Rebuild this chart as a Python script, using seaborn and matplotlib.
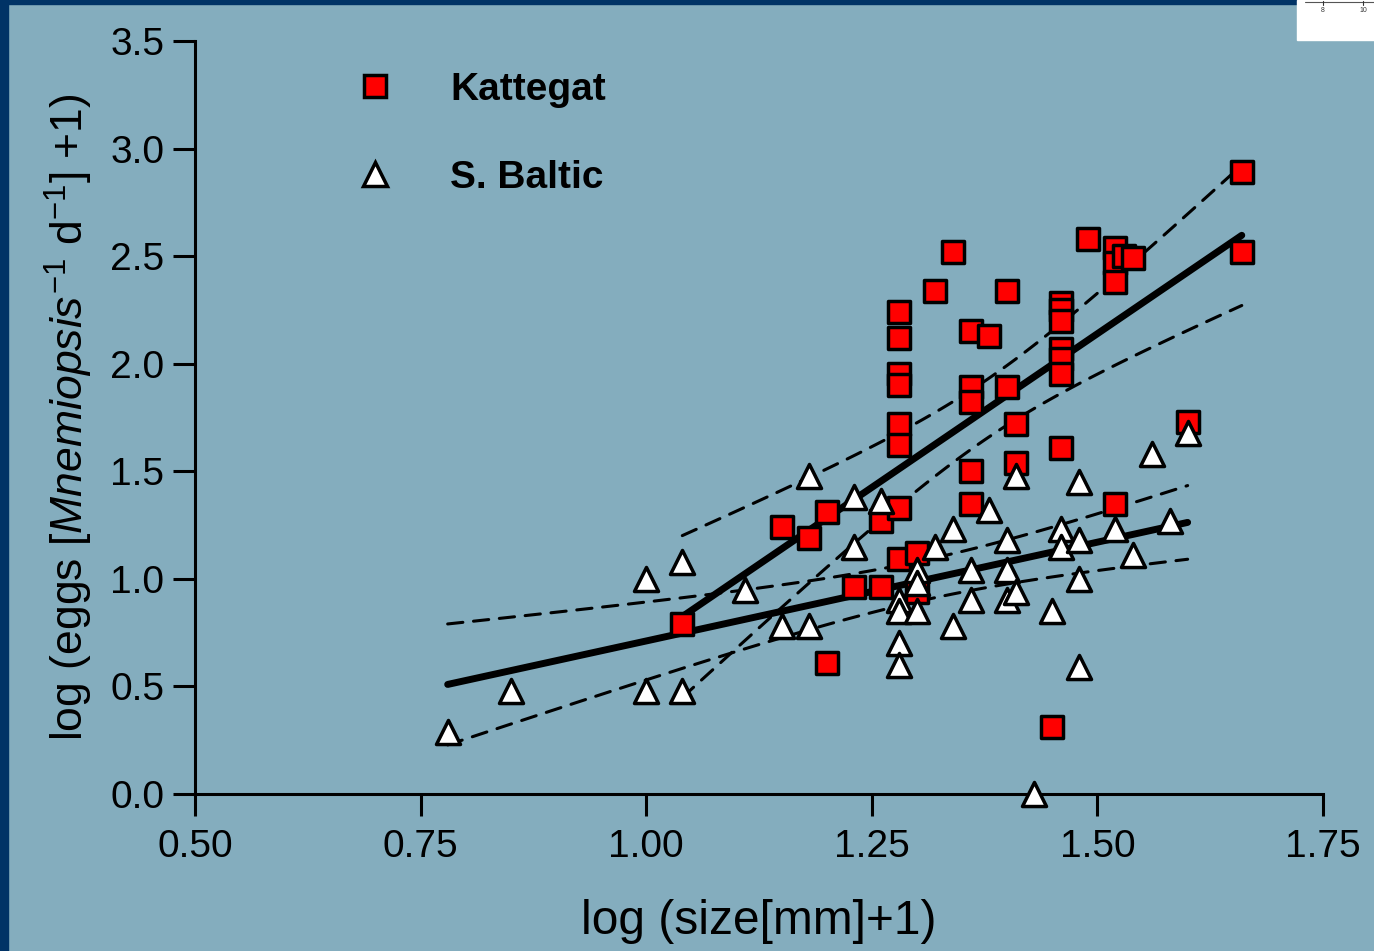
import numpy as np
import pandas as pd
import matplotlib
matplotlib.use("Agg")
import matplotlib.pyplot as plt
import seaborn as sns
from matplotlib.lines import Line2D
from matplotlib.patches import Rectangle

# log(size[mm]+1) and log(eggs+1) per ctenophore, by sampling area
kattegat_size = [1.04, 1.15, 1.18, 1.20, 1.20, 1.23, 1.26, 1.26, 1.28, 1.28,
                 1.28, 1.28, 1.28, 1.28, 1.28, 1.28, 1.30, 1.30, 1.32, 1.34,
                 1.36, 1.38, 1.36, 1.36, 1.36, 1.36, 1.40, 1.40, 1.41, 1.41,
                 1.45, 1.46, 1.46, 1.46, 1.46, 1.46, 1.46, 1.46, 1.49, 1.52,
                 1.52, 1.52, 1.53, 1.54, 1.52, 1.60, 1.66, 1.66]
kattegat_eggs = [0.79, 1.24, 1.19, 1.31, 0.61, 0.96, 0.96, 1.27, 2.24, 2.12,
                 1.95, 1.90, 1.72, 1.62, 1.33, 1.09, 1.12, 0.94, 2.34, 2.52,
                 2.15, 2.13, 1.89, 1.82, 1.50, 1.35, 2.34, 1.89, 1.72, 1.54,
                 0.31, 2.28, 2.25, 2.20, 2.07, 2.02, 1.95, 1.61, 2.58, 2.54,
                 2.47, 2.38, 2.50, 2.49, 1.35, 1.73, 2.89, 2.52]

baltic_size = [0.78, 0.85, 1.00, 1.00, 1.04, 1.04, 1.11, 1.15, 1.18, 1.18,
               1.23, 1.23, 1.26, 1.28, 1.28, 1.28, 1.28, 1.30, 1.30, 1.30,
               1.32, 1.34, 1.34, 1.36, 1.36, 1.38, 1.40, 1.40, 1.40, 1.41,
               1.41, 1.43, 1.45, 1.46, 1.46, 1.48, 1.48, 1.48, 1.48, 1.52,
               1.54, 1.56, 1.58, 1.60]
baltic_eggs = [0.29, 0.48, 1.00, 0.48, 1.08, 0.48, 0.95, 0.78, 0.78, 1.48,
               1.38, 1.15, 1.36, 0.90, 0.85, 0.70, 0.60, 1.04, 0.98, 0.85,
               1.15, 1.23, 0.78, 1.04, 0.90, 1.32, 1.18, 1.04, 0.90, 1.48,
               0.94, 0.00, 0.85, 1.23, 1.15, 1.45, 1.18, 1.00, 0.59, 1.23,
               1.11, 1.58, 1.27, 1.68]

x_ticks = [0.50, 0.75, 1.00, 1.25, 1.50, 1.75]
x_tick_labels = ["0.50", "0.75", "1.00", "1.25", "1.50", "1.75"]
y_ticks = [0.0, 0.5, 1.0, 1.5, 2.0, 2.5, 3.0, 3.5]
y_tick_labels = ["0.0", "0.5", "1.0", "1.5", "2.0", "2.5", "3.0", "3.5"]

BG = "#84adbe"
NAVY = "#003366"

df = pd.DataFrame({
    "size": kattegat_size + baltic_size,
    "eggs": kattegat_eggs + baltic_eggs,
    "site": ["Kattegat"] * len(kattegat_size) + ["S. Baltic"] * len(baltic_size),
})

sns.set_theme(style="ticks")
plt.rcParams["font.family"] = ["Liberation Sans", "DejaVu Sans"]
plt.rcParams["text.color"] = "black"
plt.rcParams["axes.labelcolor"] = "black"
plt.rcParams["mathtext.fontset"] = "custom"
plt.rcParams["mathtext.rm"] = "Liberation Sans"
plt.rcParams["mathtext.it"] = "Liberation Sans:italic"
plt.rcParams["mathtext.bf"] = "Liberation Sans:bold"

fig = plt.figure(figsize=(13.74, 9.51), dpi=100, facecolor=BG)
ax = fig.add_axes([195 / 1374, 1 - 794 / 951, 1128 / 1374, 753 / 951])
ax.set_facecolor(BG)


def ols_band(x, y, t=2.01, n_pts=120):
    """Least-squares line with 95% confidence band of the mean."""
    x = np.asarray(x, float)
    y = np.asarray(y, float)
    b1, b0 = np.polyfit(x, y, 1)
    n = len(x)
    resid = y - (b0 + b1 * x)
    s = np.sqrt(np.sum(resid ** 2) / (n - 2))
    sxx = np.sum((x - x.mean()) ** 2)
    xs = np.linspace(x.min(), x.max(), n_pts)
    yhat = b0 + b1 * xs
    se = s * np.sqrt(1 / n + (xs - x.mean()) ** 2 / sxx)
    return xs, yhat, yhat - t * se, yhat + t * se


for site in ["Kattegat", "S. Baltic"]:
    sub = df[df["site"] == site]
    xs, yhat, lo, hi = ols_band(sub["size"], sub["eggs"])
    ax.plot(xs, yhat, color="black", lw=5, solid_capstyle="round", zorder=2)
    for band in (lo, hi):
        ax.plot(xs, band, color="black", lw=2.2, dashes=(5, 3.5),
                dash_capstyle="round", zorder=2)

SQ_S = 240
TRI_S = 300
EW = 2.5
sns.scatterplot(data=df[df["site"] == "Kattegat"], x="size", y="eggs",
                marker="s", s=SQ_S, color="#ff0000", edgecolor="black",
                linewidth=EW, zorder=3, clip_on=False, legend=False, ax=ax)
sns.scatterplot(data=df[df["site"] == "S. Baltic"], x="size", y="eggs",
                marker="^", s=TRI_S, color="white", edgecolor="black",
                linewidth=EW, zorder=4, clip_on=False, legend=False, ax=ax)

ax.set_xlim(0.5, 1.75)
ax.set_ylim(0.0, 3.5)
ax.set_xticks(x_ticks)
ax.set_xticklabels(x_tick_labels)
ax.set_yticks(y_ticks)
ax.set_yticklabels(y_tick_labels)

sns.despine(ax=ax)
for side in ("left", "bottom"):
    ax.spines[side].set_linewidth(2.2)
    ax.spines[side].set_color("black")
ax.tick_params(axis="both", direction="out", length=16, width=2.2,
               color="black", labelcolor="black", labelsize=28)
ax.tick_params(axis="x", pad=9)
ax.tick_params(axis="y", pad=6)

ax.set_xlabel("log (size[mm]+1)", fontsize=34.5, color="black")
ax.set_ylabel(r"log (eggs [$\mathit{Mnemiopsis}^{-1}$ d$^{-1}$] +1)",
              fontsize=32, color="black")
ax.xaxis.set_label_coords(0.5, -0.139)
ax.yaxis.set_label_coords(-0.0887, 0.5)

handles = [
    Line2D([], [], ls="", marker="s", ms=15.5, mfc="#ff0000", mec="black", mew=EW),
    Line2D([], [], ls="", marker="^", ms=17.3, mfc="white", mec="black", mew=EW),
]
ax.legend(handles, ["Kattegat", "S. Baltic"], loc="upper left",
          bbox_to_anchor=(336 / 1374, 1 - 72 / 951), bbox_transform=fig.transFigure,
          frameon=False, prop={"weight": "bold", "size": 28},
          labelcolor="black",
          handlelength=2, handletextpad=0.93, labelspacing=1.34,
          borderpad=0, borderaxespad=0)

# slide frame: navy edges and a small white inset in the corner
fig.patches.append(Rectangle((0, 0), 8 / 1374, 1, transform=fig.transFigure,
                             color=NAVY, zorder=10))
fig.patches.append(Rectangle((0, 1 - 4 / 951), 1297 / 1374, 4 / 951,
                             transform=fig.transFigure, color=NAVY, zorder=10))
fig.patches.append(Rectangle((1297 / 1374, 1 - 40 / 951), 77 / 1374, 40 / 951,
                             transform=fig.transFigure, color="white", zorder=10))
fig.lines.append(Line2D([1305 / 1374, 1374 / 1374], [1 - 1.5 / 951, 1 - 1.5 / 951],
                        transform=fig.transFigure, color="#555555", lw=0.8, zorder=11))
for px, lab in ((1323, "8"), (1363, "10")):
    fig.lines.append(Line2D([px / 1374, px / 1374], [1 - 1 / 951, 1 - 5 / 951],
                            transform=fig.transFigure, color="#333333", lw=0.8, zorder=11))
    fig.text(px / 1374, 1 - 10 / 951, lab, fontsize=5, ha="center", va="center",
             color="#333333", zorder=11)

fig.savefig("out.png", dpi=100, facecolor=BG)
